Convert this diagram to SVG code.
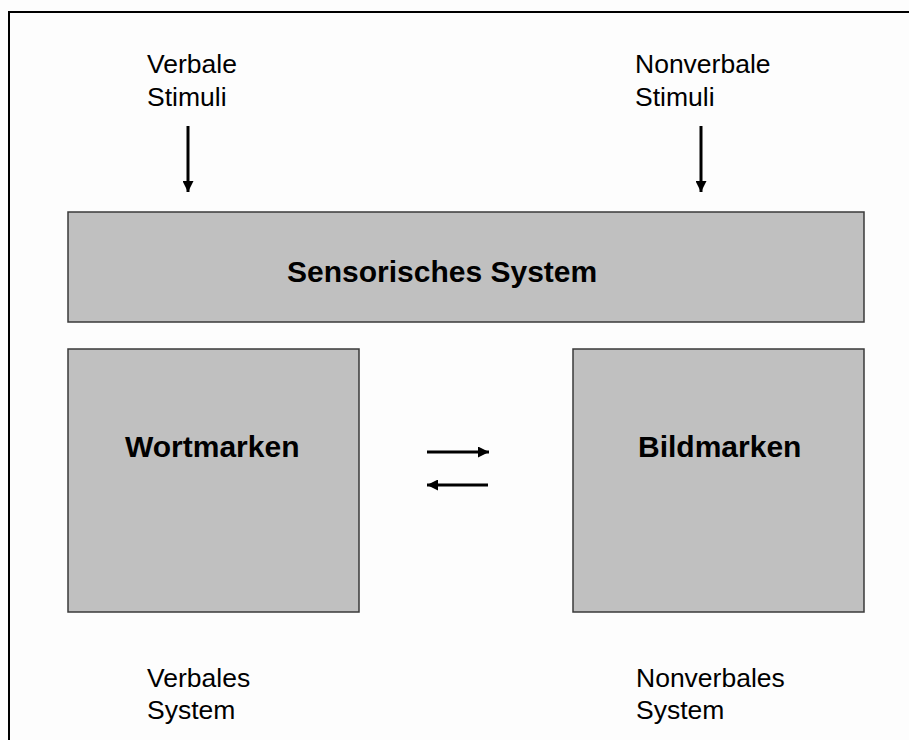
<svg xmlns="http://www.w3.org/2000/svg" width="909" height="740" viewBox="0 0 909 740">
<style>
.box{fill:#c0c0c0;stroke:#3a3a3a;stroke-width:1.5}
.bt{font-family:"Liberation Sans",Arial,sans-serif;font-weight:bold;font-size:30px;fill:#000}
.lt{font-family:"Liberation Sans",Arial,sans-serif;font-size:26.5px;fill:#000}
.ar{stroke:#000;stroke-width:3;fill:none}
</style>
<defs>
<marker id="ah" viewBox="0 0 10 10" refX="10" refY="5" markerWidth="11" markerHeight="11" markerUnits="userSpaceOnUse" orient="auto">
<path d="M0,0 L10,5 L0,10 Z" fill="#000"/>
</marker>
<marker id="ah2" viewBox="0 0 10 10" refX="10" refY="5" markerWidth="12" markerHeight="11" markerUnits="userSpaceOnUse" orient="auto">
<path d="M0,0 L10,5 L0,10 Z" fill="#000"/>
</marker>
</defs>
<rect width="909" height="740" fill="#fdfdfd"/>
<path d="M9,740 V12 H909" fill="none" stroke="#000" stroke-width="2"/>
<g id="verbale-stimuli">
<text class="lt" x="147" y="73">Verbale</text>
<text class="lt" x="147" y="106">Stimuli</text>
</g>
<g id="nonverbale-stimuli">
<text class="lt" x="635" y="73">Nonverbale</text>
<text class="lt" x="635" y="106">Stimuli</text>
</g>
<g id="sensorisches-system">
<rect class="box" x="68" y="212" width="796" height="110"/>
<text class="bt" x="287" y="282">Sensorisches System</text>
</g>
<g id="wortmarken">
<rect class="box" x="68" y="349" width="291" height="263"/>
<text class="bt" x="125" y="457">Wortmarken</text>
</g>
<g id="bildmarken">
<rect class="box" x="573" y="349" width="291" height="263"/>
<text class="bt" x="638" y="457">Bildmarken</text>
</g>
<g id="verbales-system">
<text class="lt" x="147" y="687">Verbales</text>
<text class="lt" x="147" y="719">System</text>
</g>
<g id="nonverbales-system">
<text class="lt" x="636" y="687">Nonverbales</text>
<text class="lt" x="636" y="719">System</text>
</g>
<g id="connectors">
<line class="ar" x1="188" y1="126" x2="188" y2="192" marker-end="url(#ah)"/>
<line class="ar" x1="701" y1="126" x2="701" y2="192" marker-end="url(#ah)"/>
<line class="ar" x1="427" y1="452" x2="489" y2="452" stroke-width="4" marker-end="url(#ah2)"/>
<line class="ar" x1="488" y1="485" x2="427" y2="485" stroke-width="4" marker-end="url(#ah2)"/>
</g>
</svg>
